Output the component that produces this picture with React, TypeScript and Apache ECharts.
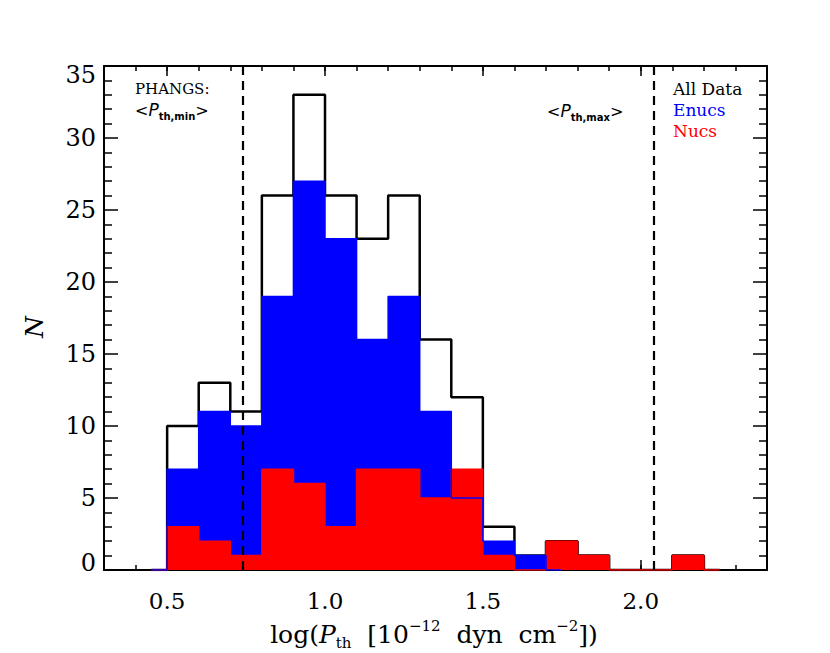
import { useEffect, useRef } from 'react';
import * as echarts from 'echarts';

// Histogram bins: start at 0.5, width 0.1
const binStart = 0.5;
const binWidth = 0.1;
const allData = [10, 13, 11, 26, 33, 26, 23, 26, 16, 12, 3, 1, 2, 1, 0, 0, 1];
const enucs = [7, 11, 10, 19, 27, 23, 16, 19, 11, 5, 2, 1];
const nucs = [3, 2, 1, 7, 6, 3, 7, 7, 5, 7, 1, 0, 2, 1, 0, 0, 1];
const phangsLines = [0.737, 2.04];
const xMajorTicks = [0.5, 1.0, 1.5, 2.0];
const xMinorTicks = [0.3, 0.4, 0.5, 0.6, 0.7, 0.8, 0.9, 1.0, 1.1, 1.2, 1.3, 1.4, 1.5, 1.6, 1.7, 1.8, 1.9, 2.0, 2.1, 2.2, 2.3, 2.4];
const xRange = [0.3, 2.4];
const yRange = [0, 35];
const yInterval = 5;

const r3 = (v: number) => Math.round(v * 1000) / 1000;

function steps(counts: number[]): number[][] {
  const pts: number[][] = [];
  pts.push([r3(binStart - binWidth / 2), 0]);
  pts.push([binStart, 0]);
  counts.forEach((c, i) => {
    const lo = r3(binStart + i * binWidth);
    const hi = r3(lo + binWidth);
    pts.push([lo, c], [hi, c]);
  });
  const end = r3(binStart + counts.length * binWidth);
  pts.push([end, 0], [r3(end + binWidth / 2), 0]);
  return pts;
}

const SERIF = 'DejaVu Serif';
const SANS = 'DejaVu Sans';

export default function App() {
  const ref = useRef<HTMLDivElement>(null);
  useEffect(() => {
    document.body.style.margin = '0';
    const chart = echarts.init(ref.current!, null, { renderer: 'svg' });
    const axisLine = { show: true, lineStyle: { color: '#000', width: 2 } };
    const xCommon = {
      type: 'value' as const,
      min: xRange[0],
      max: xRange[1],
      splitLine: { show: false },
    };
    const yCommon = {
      type: 'value' as const,
      min: yRange[0],
      max: yRange[1],
      interval: yInterval,
      splitLine: { show: false },
      minorTick: { show: true, splitNumber: 5, length: 8, lineStyle: { color: '#000', width: 1.5 } },
      axisTick: { show: true, inside: true, length: 14, lineStyle: { color: '#000', width: 1.5 } },
      axisLine,
    };
    const yLabelStyle = { fontFamily: SERIF, fontSize: 24, color: '#000' };
    const option: any = {
      animation: false,
      grid: { left: 104, right: 63, top: 66, bottom: 83 },
      xAxis: [
        {
          ...xCommon,
          position: 'bottom',
          axisLine,
          axisTick: { show: true, inside: true, length: 10, customValues: xMajorTicks, lineStyle: { color: '#000', width: 1.5 } },
          axisLabel: {
            show: true,
            customValues: xMajorTicks,
            formatter: (v: number) => v.toFixed(1),
            fontFamily: SERIF,
            fontSize: 23,
            color: '#000',
            margin: 19,
          },
        },
        {
          ...xCommon,
          position: 'bottom',
          axisLine: { show: false },
          axisTick: { show: true, inside: true, length: 5, customValues: xMinorTicks, lineStyle: { color: '#000', width: 1.5 } },
          axisLabel: { show: false },
        },
        {
          ...xCommon,
          position: 'top',
          axisLine,
          axisTick: { show: true, inside: true, length: 10, customValues: xMajorTicks, lineStyle: { color: '#000', width: 1.5 } },
          axisLabel: { show: false },
        },
        {
          ...xCommon,
          position: 'top',
          axisLine: { show: false },
          axisTick: { show: true, inside: true, length: 5, customValues: xMinorTicks, lineStyle: { color: '#000', width: 1.5 } },
          axisLabel: { show: false },
        },
      ],
      yAxis: [
        {
          ...yCommon,
          position: 'left',
          axisLabel: {
            show: true,
            ...yLabelStyle,
            margin: 8,
            formatter: (v: number) => {
              if (v === yRange[1]) return `{top|${v}}`;
              if (v === yRange[0]) return `{bot|${v}}`;
              return `${v}`;
            },
            rich: {
              top: { ...yLabelStyle, padding: [18, 0, 0, 0] },
              bot: { ...yLabelStyle, padding: [0, 0, 14, 0] },
            },
          },
        },
        {
          ...yCommon,
          position: 'right',
          axisLabel: { show: false },
        },
      ],
      series: [
        {
          name: 'All Data',
          type: 'line',
          data: steps(allData),
          showSymbol: false,
          symbol: 'none',
          lineStyle: { color: '#000', width: 2.5 },
          z: 2,
        },
        {
          name: 'Enucs fill',
          type: 'line',
          data: steps(enucs),
          showSymbol: false,
          symbol: 'none',
          lineStyle: { width: 0, opacity: 0 },
          areaStyle: { color: '#0000ff', opacity: 1 },
          z: 3,
        },
        {
          name: 'Nucs fill',
          type: 'line',
          data: steps(nucs),
          showSymbol: false,
          symbol: 'none',
          lineStyle: { width: 0, opacity: 0 },
          areaStyle: { color: '#ff0000', opacity: 1 },
          z: 4,
        },
        {
          name: 'Nucs',
          type: 'line',
          data: steps(nucs),
          showSymbol: false,
          symbol: 'none',
          lineStyle: { color: '#ff0000', width: 1.5 },
          z: 5,
        },
        {
          name: 'Enucs',
          type: 'line',
          data: steps(enucs),
          showSymbol: false,
          symbol: 'none',
          lineStyle: { color: '#0000ff', width: 1.5 },
          z: 6,
          markLine: {
            silent: true,
            symbol: ['none', 'none'],
            label: { show: false },
            lineStyle: { color: '#000', width: 2.2, type: [9, 6] },
            data: phangsLines.map((v) => ({ xAxis: v })),
            z: 10,
          },
        },
      ],
      graphic: [
        {
          type: 'text',
          x: 135,
          y: 89,
          style: { text: 'PHANGS:', font: `15px "${SERIF}"`, fill: '#000', textVerticalAlign: 'middle' },
          z: 20,
        },
        {
          type: 'text',
          x: 135,
          y: 110,
          style: {
            text: '{a|<}{p|P}{s|th,min}{a|>}',
            textVerticalAlign: 'middle',
            rich: {
              a: { fontSize: 16, fontFamily: SANS, fill: '#000', lineHeight: 22, verticalAlign: 'middle' },
              p: { fontSize: 17, fontFamily: SANS, fontStyle: 'italic', fill: '#000', lineHeight: 22, verticalAlign: 'middle' },
              s: { fontSize: 10, fontFamily: SANS, fontWeight: 'bold', fill: '#000', lineHeight: 11, verticalAlign: 'bottom' },
            },
          },
          z: 20,
        },
        {
          type: 'text',
          x: 547,
          y: 111,
          style: {
            text: '{a|<}{p|P}{s|th,max}{a|>}',
            textVerticalAlign: 'middle',
            rich: {
              a: { fontSize: 16, fontFamily: SANS, fill: '#000', lineHeight: 22, verticalAlign: 'middle' },
              p: { fontSize: 17, fontFamily: SANS, fontStyle: 'italic', fill: '#000', lineHeight: 22, verticalAlign: 'middle' },
              s: { fontSize: 10, fontFamily: SANS, fontWeight: 'bold', fill: '#000', lineHeight: 11, verticalAlign: 'bottom' },
            },
          },
          z: 20,
        },
        {
          type: 'text',
          x: 673,
          y: 89,
          style: { text: 'All Data', font: `17px "${SERIF}"`, fill: '#000', textVerticalAlign: 'middle' },
          z: 20,
        },
        {
          type: 'text',
          x: 673,
          y: 110,
          style: { text: 'Enucs', font: `17px "${SERIF}"`, fill: '#0000ff', textVerticalAlign: 'middle' },
          z: 20,
        },
        {
          type: 'text',
          x: 673,
          y: 131,
          style: { text: 'Nucs', font: `17px "${SERIF}"`, fill: '#ff0000', textVerticalAlign: 'middle' },
          z: 20,
        },
        {
          type: 'text',
          x: 34,
          y: 327,
          rotation: Math.PI / 2,
          style: {
            text: 'N',
            font: `italic 25px "${SERIF}"`,
            fill: '#000',
            textAlign: 'center',
            textVerticalAlign: 'middle',
          },
          z: 20,
        },
        {
          type: 'text',
          x: 434,
          y: 634,
          style: {
            text: '{n|log(}{i|P}{sub|th}{n|  [10}{sup|−12}{n|  dyn  cm}{sup|−2}{n|])}',
            textAlign: 'center',
            textVerticalAlign: 'middle',
            rich: {
              n: { fontSize: 25, fontFamily: SERIF, fill: '#000', lineHeight: 32, verticalAlign: 'middle' },
              i: { fontSize: 25, fontFamily: SERIF, fontStyle: 'italic', fill: '#000', lineHeight: 32, verticalAlign: 'middle' },
              sub: { fontSize: 15, fontFamily: SERIF, fill: '#000', lineHeight: 12, verticalAlign: 'bottom' },
              sup: { fontSize: 15, fontFamily: SERIF, fill: '#000', lineHeight: 14, verticalAlign: 'top' },
            },
          },
          z: 20,
        },
      ],
    };
    chart.setOption(option);
    return () => chart.dispose();
  }, []);
  return <div ref={ref} style={{ width: 830, height: 653 }} />;
}
